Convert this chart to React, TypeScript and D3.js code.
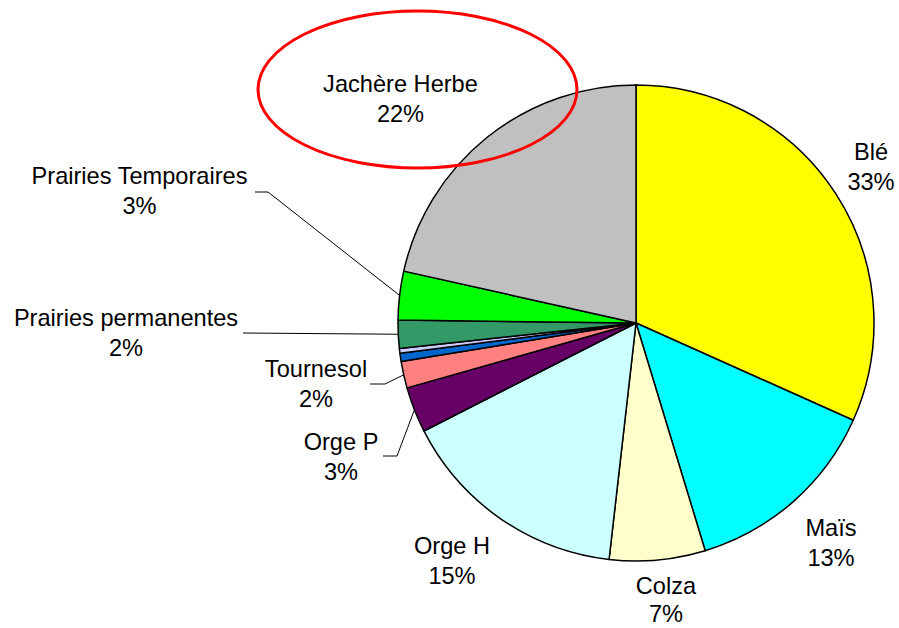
import React from "react";
import * as d3 from "d3";

const categories = ["Blé", "Maïs", "Colza", "Orge H", "Orge P", "Tournesol", "Autre 1", "Autre 2", "Prairies permanentes", "Prairies Temporaires", "Jachère Herbe"];
const values = [31.7, 13.6, 6.5, 15.7, 3.1, 1.8, 0.56, 0.33, 1.9, 3.3, 21.5];
const percentLabels = ["33%", "13%", "7%", "15%", "3%", "2%", "", "", "2%", "3%", "22%"];
const showLabel = [true, true, true, true, true, true, false, false, true, true, true];
const colors = ["#FFFF00", "#00FFFF", "#FFFFCC", "#CCFFFF", "#660066", "#FF8080", "#0066CC", "#CCCCFF", "#339966", "#00FF00", "#C0C0C0"];

// layout: label center x, first baseline y, line gap, and leader elbow (null if no leader)
const labelLayout: { x: number; y: number; gap: number; leader: [number, number, number] | null }[] = [
  { x: 871, y: 160, gap: 30, leader: null },
  { x: 831, y: 536, gap: 30, leader: null },
  { x: 666, y: 594, gap: 28, leader: null },
  { x: 452, y: 554, gap: 30, leader: null },
  { x: 341, y: 450, gap: 30, leader: [383, 397, 456] },
  { x: 316, y: 377, gap: 30, leader: [370, 385, 384] },
  { x: 0, y: 0, gap: 30, leader: null },
  { x: 0, y: 0, gap: 30, leader: null },
  { x: 126, y: 326, gap: 30, leader: [243, 243, 333] },
  { x: 139.5, y: 184, gap: 30, leader: [255, 268, 192] },
  { x: 400.5, y: 92, gap: 30, leader: null },
];

const W = 899;
const H = 628;
const cx = 636;
const cy = 323;
const R = 238;

export default function App() {
  const pie = d3.pie<number>().sort(null).value((d) => d).startAngle(0).endAngle(2 * Math.PI);
  const arcs = pie(values);
  const arc = d3.arc<d3.PieArcDatum<number>>().innerRadius(0).outerRadius(R);
  const font = "'Liberation Sans', Arial, sans-serif";

  return (
    <div style={{ position: "absolute", left: 0, top: 0 }}>
      <svg width={W} height={H} style={{ display: "block", background: "#fff" }}>
        <g transform={`translate(${cx},${cy})`}>
          {arcs.map((a, i) => (
            <path key={i} d={arc(a) || ""} fill={colors[i]} stroke="#000" strokeWidth={1.5} strokeLinejoin="round" />
          ))}
        </g>
        {arcs.map((a, i) => {
          const L = labelLayout[i];
          if (!L.leader) return null;
          const mid = (a.startAngle + a.endAngle) / 2;
          const ex = cx + R * Math.sin(mid);
          const ey = cy - R * Math.cos(mid);
          const [x0, x1, y] = L.leader;
          return (
            <polyline key={"l" + i} points={`${x0},${y} ${x1},${y} ${ex},${ey}`} fill="none" stroke="#000" strokeWidth={1} />
          );
        })}
        {categories.map((c, i) =>
          showLabel[i] ? (
            <text key={"t" + i} x={labelLayout[i].x} y={labelLayout[i].y} textAnchor="middle" fontFamily={font} fontSize={23.6} fill="#000">
              <tspan x={labelLayout[i].x}>{c}</tspan>
              <tspan x={labelLayout[i].x} dy={labelLayout[i].gap}>{percentLabels[i]}</tspan>
            </text>
          ) : null
        )}
        <ellipse cx={417.5} cy={89.5} rx={159.5} ry={78.5} fill="none" stroke="#FF0000" strokeWidth={3} />
      </svg>
    </div>
  );
}
